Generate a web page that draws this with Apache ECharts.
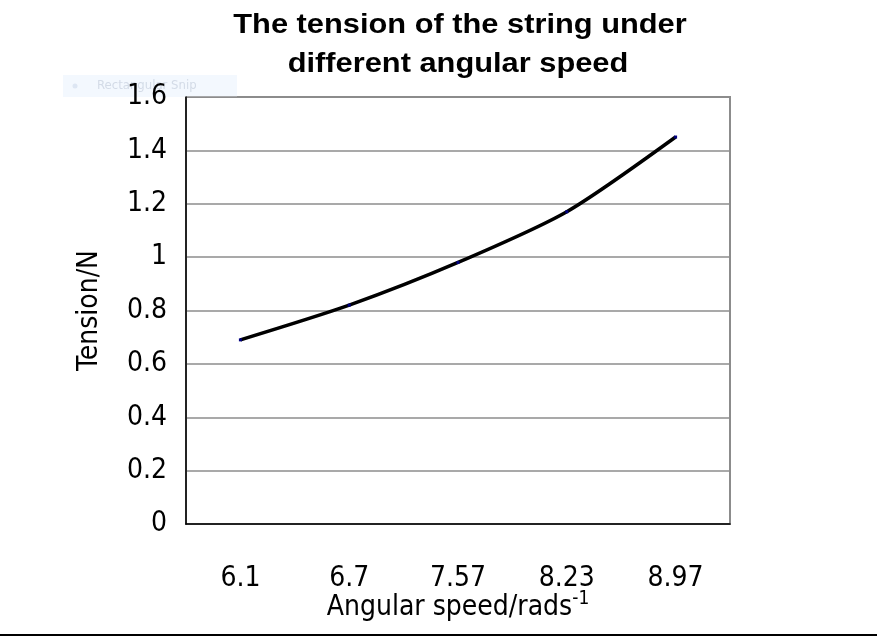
<!DOCTYPE html>
<html><head><meta charset="utf-8">
<script src="https://cdn.jsdelivr.net/npm/echarts@6/dist/echarts.min.js"></script>
<style>html,body{margin:0;padding:0;background:#fff}#c{width:881px;height:640px}</style>
</head><body><div id="c"></div>
<script>
const categories = ['6.1', '6.7', '7.57', '8.23', '8.97'];
const tension = [0.69, 0.82, 0.98, 1.17, 1.45];
const yTicks = [0, 0.2, 0.4, 0.6, 0.8, 1, 1.2, 1.4, 1.6];
const titleLines = ['The tension of the string under', 'different angular speed'];

const narrow = '"DejaVu Sans Condensed", "Liberation Sans Narrow", sans-serif';
const bold = '"Liberation Sans", Arial, sans-serif';
const chart = echarts.init(document.getElementById('c'));
chart.setOption({
  animation: false,
  backgroundColor: '#fff',
  grid: { left: 186, right: 151, top: 97, bottom: 116, show: true, borderColor: '#8c8c8c', borderWidth: 2 },
  xAxis: {
    type: 'category', data: categories, boundaryGap: true,
    axisLine: { lineStyle: { color: '#000', width: 1.5 } },
    axisTick: { inside: true, length: 8, lineStyle: { color: '#000' } },
    axisLabel: { margin: 41, fontFamily: narrow, fontSize: 28, color: '#000' },
    name: '{n|Angular speed/rads}{s|-1}', nameLocation: 'middle', nameGap: 66,
    nameMoveOverlap: false,
    nameTextStyle: { fontFamily: narrow, fontSize: 28, color: '#000',
      rich: {
        n: { fontFamily: narrow, fontSize: 28, lineHeight: 30, color: '#000' },
        s: { fontFamily: narrow, fontSize: 19, color: '#000', padding: [0, 0, 16, 0] }
      } }
  },
  yAxis: {
    type: 'value', min: yTicks[0], max: yTicks[yTicks.length - 1], interval: 0.2,
    axisLine: { show: true, lineStyle: { color: '#000', width: 1.5 } },
    axisTick: { show: false },
    splitLine: { lineStyle: { color: '#8c8c8c', width: 1.5 } },
    axisLabel: { margin: 19, fontFamily: narrow, fontSize: 28, color: '#000',
      formatter: v => String(parseFloat(v.toFixed(1))) },
    name: 'Tension/N', nameLocation: 'middle', nameGap: 82,
    nameMoveOverlap: false,
    nameTextStyle: { fontFamily: narrow, fontSize: 28, color: '#000' }
  },
  series: [{
    type: 'line', data: tension, smooth: 0.25,
    lineStyle: { color: '#000', width: 3.5 },
    symbol: 'rect', symbolSize: 3, itemStyle: { color: '#000080' }
  }],
  graphic: [
    { type: 'rect', shape: { x: 63, y: 75, width: 174, height: 22 }, style: { fill: '#f3f8fe' }, z: 0 },
    { type: 'circle', shape: { cx: 75, cy: 86, r: 2.5 }, style: { fill: '#dde6f3' }, z: 0 },
    { type: 'text', x: 97, y: 86, style: { text: 'Rectangular Snip', fontSize: 13, fill: '#d3dbe7', fontFamily: narrow, textVerticalAlign: 'middle' }, z: 0 },
    { type: 'text', x: 460, y: 25, scaleX: 1.1, style: { text: titleLines[0], fontFamily: bold, fontWeight: 'bold', fontSize: 28, fill: '#000', textAlign: 'center', textVerticalAlign: 'middle' } },
    { type: 'text', x: 458, y: 64, scaleX: 1.1, style: { text: titleLines[1], fontFamily: bold, fontWeight: 'bold', fontSize: 28, fill: '#000', textAlign: 'center', textVerticalAlign: 'middle' } },
    { type: 'line', shape: { x1: 0, y1: 635, x2: 877, y2: 635 }, style: { stroke: '#000', lineWidth: 2 } }
  ]
});
</script></body></html>
